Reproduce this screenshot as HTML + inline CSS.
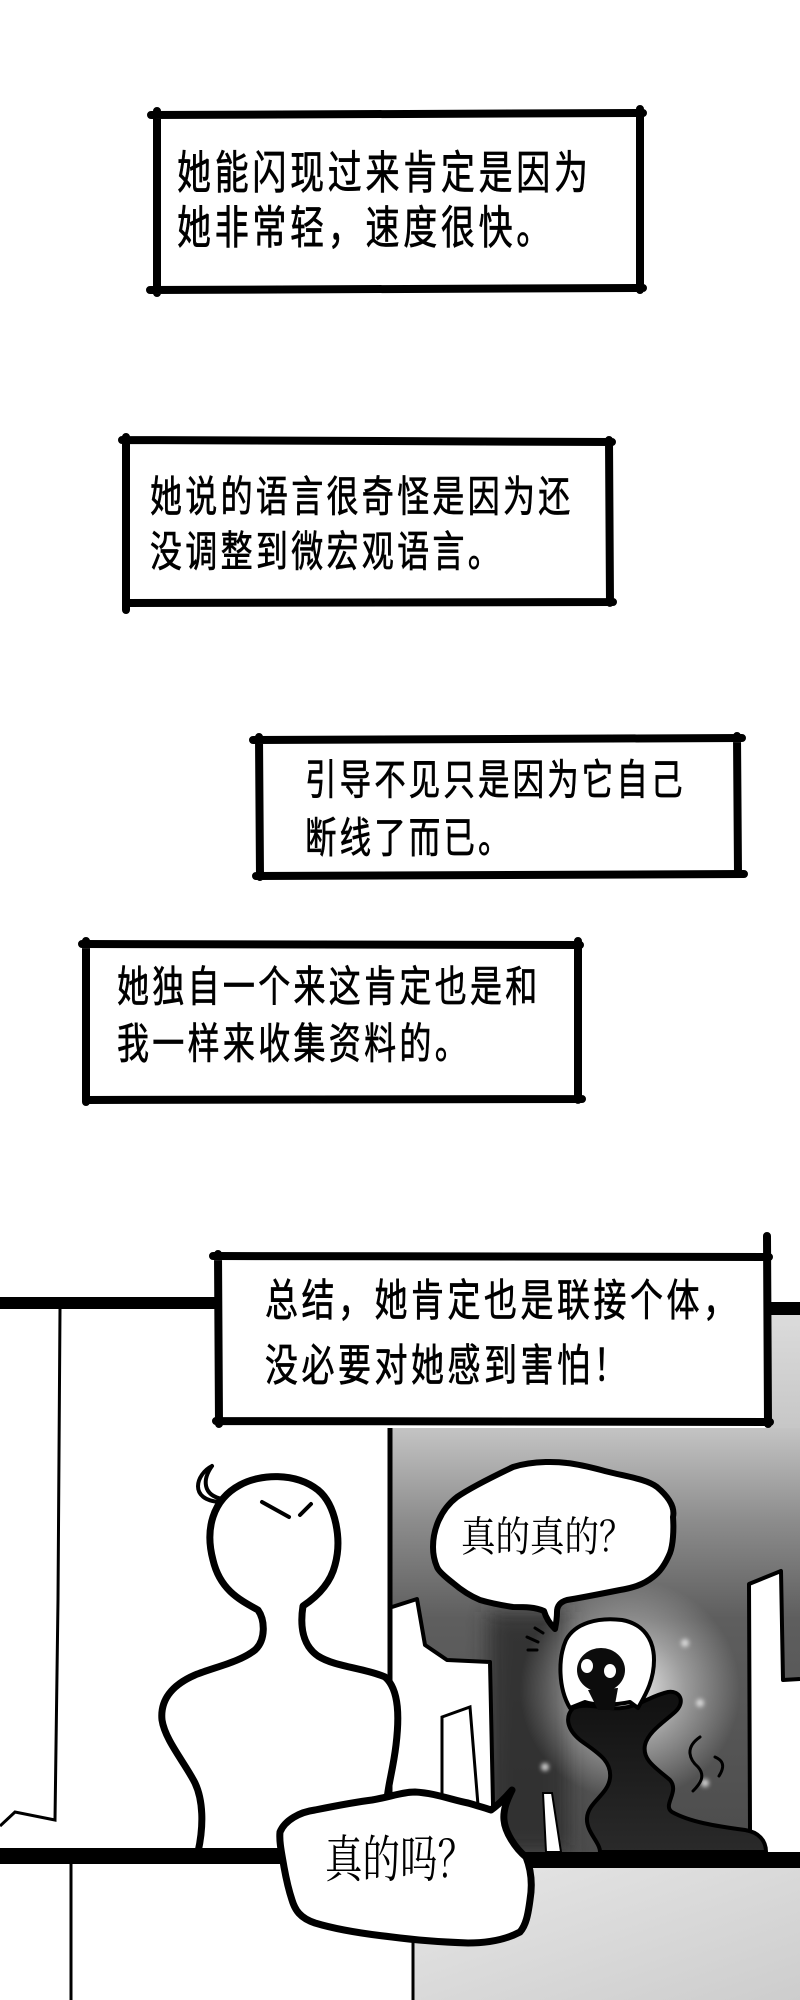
<!DOCTYPE html>
<html>
<head>
<meta charset="utf-8">
<style>
html,body{margin:0;padding:0;background:#fff;}
body{width:800px;height:2000px;position:relative;overflow:hidden;}
svg{position:absolute;left:0;top:0;}
.t{position:absolute;white-space:nowrap;font-family:"Liberation Sans","Noto Sans CJK SC",sans-serif;color:#000;height:50px;line-height:50px;transform:scaleY(1.33);transform-origin:0 50%;-webkit-text-stroke:0.5px #000;}
.s{position:absolute;white-space:nowrap;font-family:"Liberation Serif","Noto Serif CJK SC",serif;color:#000;height:50px;line-height:50px;transform-origin:0 50%;}
</style>
</head>
<body>
<svg width="800" height="2000" viewBox="0 0 800 2000" xmlns="http://www.w3.org/2000/svg">
<defs>
<linearGradient id="gTop" gradientUnits="userSpaceOnUse" x1="0" y1="1428" x2="0" y2="1852">
<stop offset="0" stop-color="#c4c4c4"/>
<stop offset="0.22" stop-color="#8c8c8c"/>
<stop offset="0.45" stop-color="#5e5e5e"/>
<stop offset="1" stop-color="#4c4c4c"/>
</linearGradient>
<linearGradient id="gStrip" x1="0" y1="0" x2="0" y2="1">
<stop offset="0" stop-color="#dcdcdc"/>
<stop offset="1" stop-color="#c6c6c6"/>
</linearGradient>
<linearGradient id="gBot" x1="0" y1="0" x2="1" y2="1">
<stop offset="0" stop-color="#e6e6e6"/>
<stop offset="1" stop-color="#cdcdcd"/>
</linearGradient>
<radialGradient id="glow" gradientUnits="userSpaceOnUse" cx="630" cy="1690" r="110">
<stop offset="0" stop-color="#ffffff" stop-opacity="0.9"/>
<stop offset="0.5" stop-color="#ffffff" stop-opacity="0.4"/>
<stop offset="1" stop-color="#ffffff" stop-opacity="0"/>
</radialGradient>
<linearGradient id="gBody" x1="0" y1="0" x2="0" y2="1">
<stop offset="0" stop-color="#101010"/>
<stop offset="1" stop-color="#2a2a2a"/>
</linearGradient>
<filter id="blur" x="-50%" y="-50%" width="200%" height="200%"><feGaussianBlur stdDeviation="10"/></filter>
<filter id="blur2" x="-100%" y="-100%" width="300%" height="300%"><feGaussianBlur stdDeviation="2"/></filter>
</defs>

<g stroke="#000" stroke-width="8" stroke-linecap="round" fill="none">
<path d="M151,115 L643,113 M157,111 L157,293 M640,109 L640,290 M150,290 L643,288"/>
<path d="M122,440 L612,442 M126,437 L126,610 M609,440 L610,603 M126,603 L613,602"/>
<path d="M253,740 L742,738 M259,737 L260,877 M737,736 L738,874 M256,876 L744,874"/>
<path d="M82,944 L580,945 M86,941 L86,1102 M578,941 L578,1100 M86,1100 L582,1099"/>
</g>

<rect x="769" y="1312" width="31" height="120" fill="url(#gStrip)"/>
<rect x="0" y="1297" width="218" height="12" fill="#000"/>
<rect x="766" y="1302" width="34" height="13" fill="#000"/>

<rect x="392" y="1428" width="408" height="424" fill="url(#gTop)"/>
<rect x="488" y="1612" width="80" height="240" fill="#2c2c2c" filter="url(#blur)" opacity="0.8"/>
<rect x="392" y="1428" width="408" height="424" fill="url(#glow)"/>

<g fill="#e6e6e6" filter="url(#blur2)" opacity="0.85">
<circle cx="685" cy="1643" r="4"/>
<circle cx="700" cy="1703" r="4"/>
<circle cx="545" cy="1767" r="4"/>
<circle cx="705" cy="1783" r="4"/>
</g>

<polyline points="60,1309 58,1600 55,1820 15,1812 0,1826" fill="none" stroke="#000" stroke-width="3"/>

<polygon points="392,1607 417,1599 425,1645 447,1660 490,1662 494,1852 392,1852" fill="#fff"/>
<polyline points="392,1607 417,1599 425,1645 447,1660 490,1662 494,1852" fill="none" stroke="#000" stroke-width="4" stroke-linejoin="round"/>
<polyline points="442,1805 442,1717 470,1707 478,1805" fill="none" stroke="#000" stroke-width="3"/>
<line x1="390" y1="1428" x2="390" y2="1805" stroke="#000" stroke-width="5"/>
<polygon points="543,1793 552,1793 561,1852 546,1852" fill="#fff" stroke="#000" stroke-width="2"/>

<polygon points="750,1584 781,1571 783,1680 800,1679 800,1852 750,1852" fill="#fff"/>
<polyline points="750,1830 749,1584 781,1571 783,1680 800,1679" fill="none" stroke="#000" stroke-width="4" stroke-linejoin="round"/>

<path d="M573,1708 C 564,1718 568,1730 580,1740 C 596,1752 612,1760 610,1778 C 608,1795 588,1802 587,1818 C 586,1832 600,1842 600,1852 L 766,1852 C 766,1840 758,1832 745,1830 C 715,1826 690,1822 672,1812 C 662,1805 680,1792 670,1780 C 656,1768 642,1760 645,1745 C 648,1732 664,1722 675,1712 C 686,1702 680,1690 668,1692 C 650,1696 640,1706 622,1708 C 605,1710 588,1702 573,1708 Z" fill="url(#gBody)" stroke="#000" stroke-width="4" stroke-linejoin="round"/>
<path d="M570,1708 C 558,1688 558,1658 566,1640 C 575,1623 598,1617 622,1620 C 644,1624 654,1640 654,1660 C 654,1682 644,1697 638,1708 L 630,1702 C 616,1705 596,1706 585,1702 Z" fill="#fff" stroke="#000" stroke-width="4" stroke-linejoin="round"/>
<ellipse cx="601" cy="1670" rx="24" ry="22" fill="#0c0c0c"/>
<path d="M588,1690 L598,1710 L614,1710 L618,1688 Z" fill="#0c0c0c"/>
<ellipse cx="587" cy="1666" rx="6" ry="7" fill="#fff"/>
<ellipse cx="610" cy="1671" rx="6" ry="7" fill="#fff"/>
<path d="M700,1737 C 684,1748 690,1760 698,1767 C 706,1776 700,1784 693,1791" fill="none" stroke="#000" stroke-width="3" stroke-linecap="round"/>
<path d="M715,1757 C 722,1760 726,1765 719,1776" fill="none" stroke="#000" stroke-width="3" stroke-linecap="round"/>
<g stroke="#000" stroke-width="3" stroke-linecap="round">
<line x1="535" y1="1628" x2="543" y2="1633"/>
<line x1="527" y1="1637" x2="538" y2="1642"/>
<line x1="528" y1="1650" x2="537" y2="1650"/>
</g>

<path d="M433,1547 C 433,1530 440,1510 457,1497 C 470,1488 490,1478 513,1467 C 535,1460 560,1462 567,1463 C 585,1465 600,1470 613,1473 C 630,1477 648,1480 657,1487 C 670,1498 675,1508 673,1517 C 674,1530 673,1545 670,1553 C 665,1565 660,1572 653,1577 C 643,1585 632,1588 620,1590 C 600,1594 580,1598 567,1600 C 560,1602 557,1606 557,1612 C 557,1618 556,1624 555,1629 C 550,1624 546,1618 544,1611 C 535,1607 525,1607 513,1607 C 500,1605 490,1603 480,1600 C 468,1595 460,1589 453,1583 C 444,1576 438,1570 437,1567 C 434,1560 433,1553 433,1547 Z" fill="#fff" stroke="#000" stroke-width="6" stroke-linejoin="round"/>

<path d="M198,1852 C 204,1825 203,1800 195,1783 C 185,1763 165,1740 162,1720 C 160,1700 172,1685 195,1675 C 215,1667 240,1662 255,1650 C 266,1640 265,1620 258,1610 C 240,1600 220,1590 213,1560 C 205,1530 212,1500 240,1485 C 260,1474 295,1472 318,1490 C 336,1505 342,1540 335,1565 C 330,1585 315,1598 303,1606 C 300,1625 302,1645 318,1656 C 335,1667 365,1668 385,1677 C 400,1690 399,1720 396,1745 C 393,1770 388,1785 387,1800" fill="#fff" stroke="#000" stroke-width="7" stroke-linecap="round" stroke-linejoin="round"/>
<path d="M212,1466 C 196,1474 188,1500 220,1502 M212,1466 C 202,1480 203,1495 222,1499" fill="none" stroke="#000" stroke-width="4" stroke-linecap="round"/>
<line x1="262" y1="1502" x2="289" y2="1517" stroke="#000" stroke-width="4" stroke-linecap="round"/>
<line x1="300" y1="1515" x2="311" y2="1504" stroke="#000" stroke-width="4" stroke-linecap="round"/>

<rect x="0" y="1848" width="420" height="16" fill="#000"/>
<rect x="420" y="1852" width="380" height="16" fill="#000"/>

<rect x="413" y="1868" width="387" height="132" fill="url(#gBot)"/>
<line x1="413" y1="1900" x2="413" y2="2000" stroke="#000" stroke-width="3"/>
<line x1="71" y1="1864" x2="71" y2="2000" stroke="#000" stroke-width="3"/>

<path d="M280,1832 C 285,1820 300,1812 315,1810 C 335,1806 355,1802 372,1800 C 390,1797 402,1792 415,1792 C 435,1793 452,1800 468,1803 C 478,1806 486,1808 491,1810 C 498,1805 506,1797 512,1790 C 507,1800 503,1810 504,1820 C 505,1832 515,1848 526,1857 C 532,1872 532,1888 530,1900 C 528,1915 526,1925 520,1932 C 505,1940 488,1943 468,1943 C 440,1942 415,1940 392,1937 C 365,1934 338,1930 315,1923 C 300,1918 295,1910 292,1900 C 288,1888 286,1878 284,1867 C 282,1855 279,1842 280,1832 Z" fill="#fff" stroke="#000" stroke-width="7" stroke-linejoin="round"/>

<rect x="219" y="1258" width="548" height="163" fill="#fff"/>
<g stroke="#000" stroke-width="8" stroke-linecap="round" fill="none">
<path d="M213,1256 L769,1257 M218,1254 L219,1424 M767,1236 L768,1424 M216,1421 L770,1422"/>
</g>
</svg>

<div class="t" style="left:177px;top:149px;font-size:34px;letter-spacing:3.7px;">她能闪现过来肯定是因为</div>
<div class="t" style="left:177px;top:204px;font-size:34px;letter-spacing:3.7px;">她非常轻，速度很快。</div>

<div class="t" style="left:150px;top:472px;font-size:32px;letter-spacing:3.3px;">她说的语言很奇怪是因为还</div>
<div class="t" style="left:150px;top:527px;font-size:32px;letter-spacing:3.3px;">没调整到微宏观语言。</div>

<div class="t" style="left:305px;top:755px;font-size:31.5px;letter-spacing:3.1px;">引导不见只是因为它自己</div>
<div class="t" style="left:305px;top:813px;font-size:31.5px;letter-spacing:3.1px;">断线了而已。</div>

<div class="t" style="left:117px;top:962px;font-size:32px;letter-spacing:3.3px;">她独自一个来这肯定也是和</div>
<div class="t" style="left:117px;top:1019px;font-size:32px;letter-spacing:3.3px;">我一样来收集资料的。</div>

<div class="t" style="left:265px;top:1276px;font-size:33px;letter-spacing:3.5px;">总结，她肯定也是联接个体，</div>
<div class="t" style="left:265px;top:1341px;font-size:33px;letter-spacing:3.5px;">没必要对她感到害怕！</div>

<div class="s" style="left:461px;top:1513px;font-size:34.5px;transform:scaleY(1.2);">真的真的？</div>
<div class="s" style="left:325px;top:1837px;font-size:37.5px;transform:scaleY(1.35);">真的吗？</div>
</body>
</html>
